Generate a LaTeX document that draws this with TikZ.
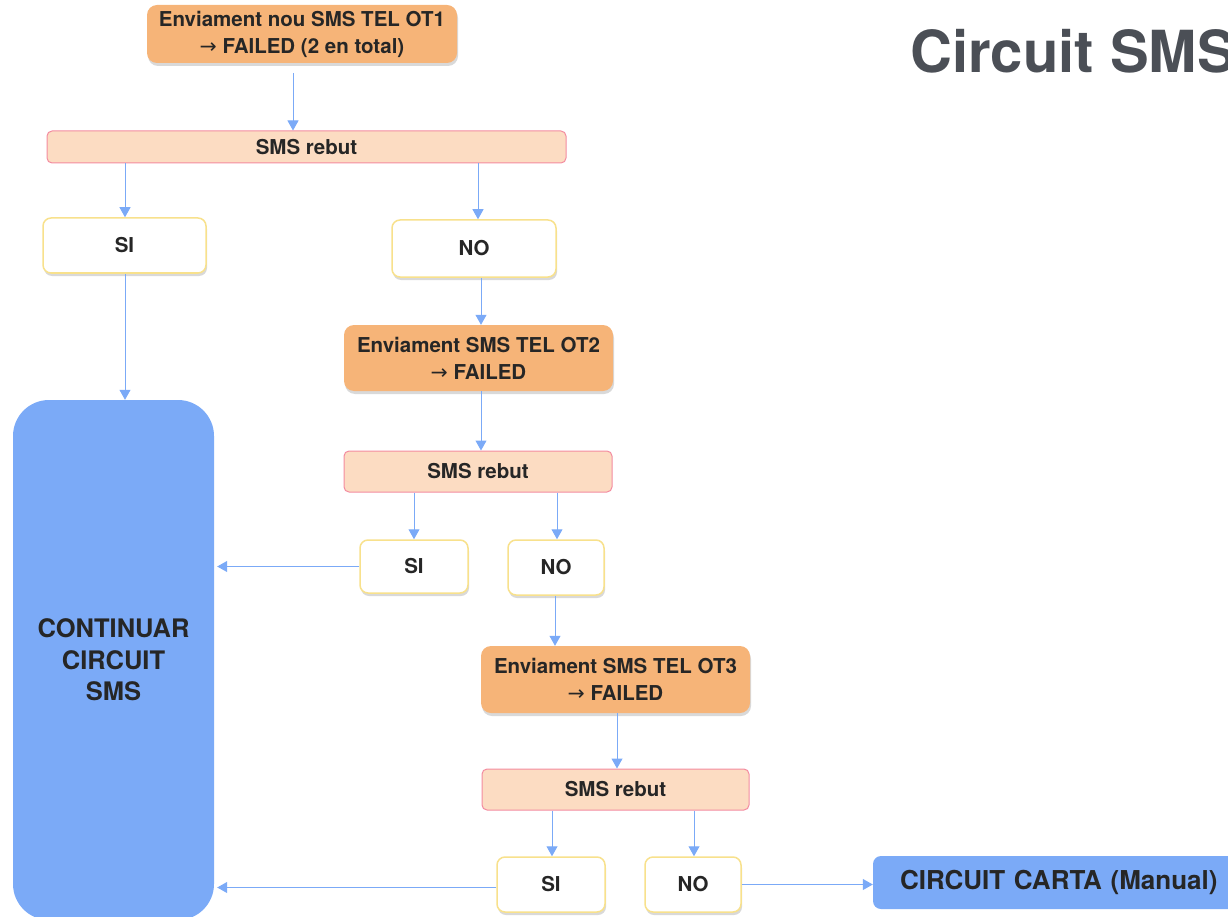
\documentclass[tikz,border=0pt]{standalone}
\usepackage{fontspec}
\setmainfont{TeX Gyre Heros}
\newfontfamily\arrowfont{DejaVu Sans}
\usetikzlibrary{arrows.meta,shadows}
\definecolor{orangebox}{HTML}{F6B478}
\definecolor{rebutfill}{HTML}{FCDCC2}
\definecolor{rebutdraw}{HTML}{F38BA0}
\definecolor{yesdraw}{HTML}{F8E18C}
\definecolor{bluebox}{HTML}{7BAAF7}
\definecolor{arrowc}{HTML}{7BAAF7}
\definecolor{txt}{HTML}{262626}
\definecolor{titlec}{HTML}{4B4F56}
\newcommand{\rarr}{{\arrowfont\mdseries →}}
\begin{document}
\begin{tikzpicture}[x=1pt,y=-1pt,
  base/.style={inner sep=0pt, align=center, text=txt, font=\fontsize{20.5}{27}\selectfont\bfseries},
  sendbox/.style={base, fill=orangebox, rounded corners=10pt,
    drop shadow={opacity=0.3, shadow xshift=1pt, shadow yshift=-3pt}},
  rebutbox/.style={base, fill=rebutfill, draw=rebutdraw, line width=1pt, rounded corners=5pt},
  ansbox/.style={base, fill=white, draw=yesdraw, line width=1.5pt, rounded corners=8pt,
    drop shadow={opacity=0.3, shadow xshift=1pt, shadow yshift=-3pt}},
  bigbox/.style={base, fill=bluebox, rounded corners=36pt, font=\fontsize{25.5}{31.5}\selectfont\bfseries},
  cartabox/.style={base, fill=bluebox, rounded corners=8pt, font=\fontsize{26}{31.5}\selectfont\bfseries},
  arr/.style={draw=arrowc, line width=1pt, -{Triangle[width=11pt,length=10pt]}}
]
\useasboundingbox (0,0) rectangle (1228,917);
\begin{scope}
\clip (0,0) rectangle (1228,917);

\node[anchor=base west, inner sep=0pt, text=titlec, font=\fontsize{58}{62}\selectfont\bfseries] (title) at (910,73) {Circuit SMS};

\node[sendbox, minimum width=310pt, minimum height=58pt] (top1) at (302,34) {Enviament nou SMS TEL OT1\\\rarr{} FAILED (2 en total)};
\node[rebutbox, minimum width=519pt, minimum height=32pt] (rebut1) at (306.5,147) {SMS rebut};
\node[ansbox, minimum width=163pt, minimum height=55pt] (si1) at (124.5,245.5) {SI};
\node[ansbox, minimum width=164pt, minimum height=57pt] (no1) at (474,248.5) {NO};

\node[sendbox, minimum width=269pt, minimum height=66pt] (ot2) at (478.5,358) {Enviament SMS TEL OT2\\\rarr{} FAILED};
\node[rebutbox, minimum width=268pt, minimum height=41pt] (rebut2) at (478,471.5) {SMS rebut};
\node[ansbox, minimum width=108pt, minimum height=53pt] (si2) at (414,566.5) {SI};
\node[ansbox, minimum width=96pt, minimum height=55pt] (no2) at (556,567.5) {NO};

\node[sendbox, minimum width=269pt, minimum height=67pt] (ot3) at (615.5,679.5) {Enviament SMS TEL OT3\\\rarr{} FAILED};
\node[rebutbox, minimum width=267pt, minimum height=41pt] (rebut3) at (615.5,789.5) {SMS rebut};
\node[ansbox, minimum width=108pt, minimum height=55pt] (si3) at (551,884.5) {SI};
\node[ansbox, minimum width=96pt, minimum height=55pt] (no3) at (693,884.5) {NO};

\node[bigbox, minimum width=201pt, minimum height=520pt] (cont) at (113.5,660) {CONTINUAR\\CIRCUIT\\SMS};
\node[cartabox, minimum width=400pt, minimum height=53pt, text width=346pt, align=left] (carta) at (1073,882.5) {CIRCUIT CARTA (Manual)};

\coordinate (c0) at (293,73);
\draw[arr] (c0) -- (c0 |- rebut1.north);
\draw[arr] (rebut1.south -| 125,0) -- (125,0 |- si1.north);
\draw[arr] (rebut1.south -| 478,0) -- (478,0 |- no1.north);
\draw[arr] (si1.south -| 125,0) -- (125,0 |- cont.north);
\draw[arr] (no1.south -| 481,0) -- (481,0 |- ot2.north);
\draw[arr] (ot2.south -| 481,0) -- (481,0 |- rebut2.north);
\draw[arr] (rebut2.south -| 414,0) -- (414,0 |- si2.north);
\draw[arr] (rebut2.south -| 557,0) -- (557,0 |- no2.north);
\draw[arr] (si2.west) -- ([xshift=3pt]si2.west -| cont.east);
\draw[arr] (no2.south -| 555,0) -- (555,0 |- ot3.north);
\draw[arr] (ot3.south -| 617,0) -- (617,0 |- rebut3.north);
\draw[arr] (rebut3.south -| 552,0) -- (552,0 |- si3.north);
\draw[arr] (rebut3.south -| 694,0) -- (694,0 |- no3.north);
\draw[arr] ([yshift=-3pt]si3.west) -- ([xshift=3pt,yshift=-3pt]si3.west -| cont.east);
\draw[arr] (no3.east) -- (no3.east -| carta.west);
\end{scope}
\end{tikzpicture}
\end{document}
